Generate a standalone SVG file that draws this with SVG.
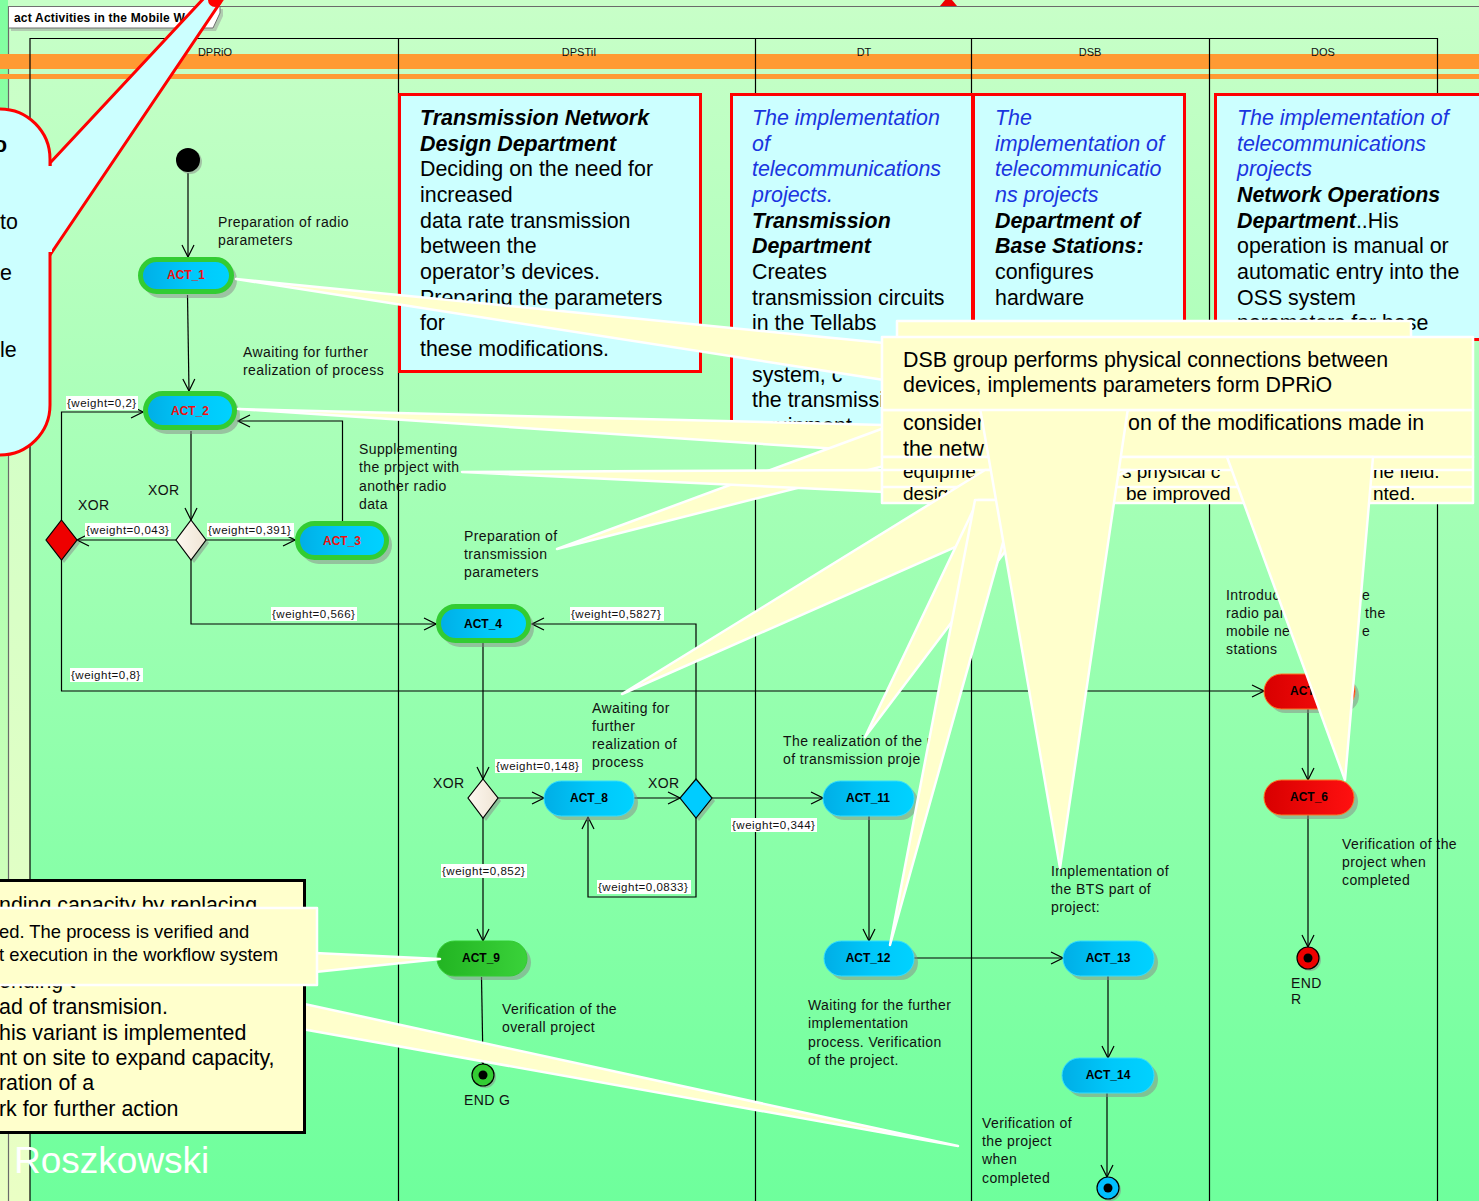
<svg xmlns="http://www.w3.org/2000/svg" width="1479" height="1201" viewBox="0 0 1479 1201">
<defs>
<linearGradient id="bg" x1="0" y1="0" x2="0" y2="1">
<stop offset="0" stop-color="#c8ffc8"/><stop offset="0.5" stop-color="#9dffb2"/><stop offset="1" stop-color="#6eff9c"/>
</linearGradient>
<linearGradient id="strip1" x1="0" y1="0" x2="0" y2="1">
<stop offset="0" stop-color="#80ffa0"/><stop offset="1" stop-color="#eaffc4"/>
</linearGradient>
<linearGradient id="strip2" x1="0" y1="0" x2="0" y2="1">
<stop offset="0" stop-color="#c8ffc8"/><stop offset="1" stop-color="#eaffc4"/>
</linearGradient>
<linearGradient id="blue" x1="0" y1="0" x2="1" y2="0">
<stop offset="0" stop-color="#00aee6"/><stop offset="0.55" stop-color="#00c8fa"/><stop offset="1" stop-color="#00d2ff"/>
</linearGradient>
<linearGradient id="grn" x1="0" y1="0" x2="1" y2="0">
<stop offset="0" stop-color="#22b422"/><stop offset="1" stop-color="#3ad23a"/>
</linearGradient>
<linearGradient id="red" x1="0" y1="0" x2="1" y2="0">
<stop offset="0" stop-color="#d80000"/><stop offset="1" stop-color="#ff1010"/>
</linearGradient>
<linearGradient id="beige" x1="0" y1="0" x2="1" y2="0">
<stop offset="0" stop-color="#fdf8f0"/><stop offset="1" stop-color="#efe4d4"/>
</linearGradient>
<marker id="arr" viewBox="0 0 14 14" refX="13" refY="7" markerWidth="14" markerHeight="14" orient="auto" markerUnits="userSpaceOnUse">
<path d="M1,1 L13,7 L1,13" fill="none" stroke="#000" stroke-width="1.2"/>
</marker>
<clipPath id="clipDT"><rect x="731" y="93" width="242" height="332"/></clipPath>
<clipPath id="band3"><rect x="882" y="470" width="592" height="17"/></clipPath>
<clipPath id="band4"><rect x="882" y="487" width="592" height="16"/></clipPath>
</defs>
<style>
text{font-family:"Liberation Sans",Arial,sans-serif}
.lbl{font-size:14px;letter-spacing:.4px;fill:#111}
.hd{font-size:11px;fill:#111;text-anchor:middle}
.w{font-size:11.5px;letter-spacing:.5px;fill:#111}
.wb{fill:#fff}
.c{fill:none;stroke:#000;stroke-width:1.2}
.ca{fill:none;stroke:#000;stroke-width:1.2;marker-end:url(#arr)}
.sh{fill:#888;opacity:.5}
.an{font-size:12px;font-weight:bold;text-anchor:middle;fill:#000}
.ar{fill:#ee1111}
.gb{stroke:#33cc33;stroke-width:5}
.bb{stroke:#33ddff;stroke-width:1}
.note{fill:#ccffff;stroke:#ff0000;stroke-width:3}
.nt{font-size:21.4px;fill:#000}
.bl{fill:#1a35e0;font-style:italic}
.bi{font-weight:bold;font-style:italic}
.y{fill:#ffffcc;stroke:#fff;stroke-width:2.5;stroke-linejoin:round}
.lane{stroke:#000;stroke-width:1.2}
</style>

<!-- background -->
<rect x="0" y="0" width="1479" height="1201" fill="url(#bg)"/>
<rect x="0" y="0" width="1479" height="7" fill="#c8ffc8"/>
<rect x="0" y="0" width="8" height="1201" fill="url(#strip1)"/>
<rect x="8" y="30" width="22" height="1171" fill="url(#strip2)"/>
<line x1="8" y1="6.5" x2="1479" y2="6.5" stroke="#6a6a6a" stroke-width="1.2"/>
<line x1="8.5" y1="6" x2="8.5" y2="1201" stroke="#6a6a6a" stroke-width="1.2"/>

<!-- orange bands -->
<rect x="0" y="54" width="1479" height="15" fill="#ff9a33"/>
<rect x="0" y="74" width="1479" height="5" fill="#ff9a33"/>

<!-- lanes -->
<g id="lanes">
<line class="lane" x1="30" y1="38.5" x2="1437" y2="38.5"/>
<line class="lane" x1="30" y1="38" x2="30" y2="1201"/>
<line class="lane" x1="398.5" y1="38" x2="398.5" y2="1201"/>
<line class="lane" x1="755.5" y1="38" x2="755.5" y2="1201"/>
<line class="lane" x1="971.5" y1="38" x2="971.5" y2="1201"/>
<line class="lane" x1="1209.5" y1="38" x2="1209.5" y2="1201"/>
<line class="lane" x1="1437.5" y1="38" x2="1437.5" y2="1201"/>
<text class="hd" x="215" y="56">DPRiO</text>
<text class="hd" x="579" y="56">DPSTiI</text>
<text class="hd" x="864" y="56">DT</text>
<text class="hd" x="1090" y="56">DSB</text>
<text class="hd" x="1323" y="56">DOS</text>
</g>

<!-- frame label -->
<g id="frame-label">
<polygon points="11,9 223,9 223,16 216,31 11,31" fill="#999" opacity="0.5"/>
<polygon points="8.5,6.5 220,6.5 220,13 213,28 8.5,28" fill="#fff" stroke="#707070" stroke-width="1"/>
<text x="14" y="21.5" font-size="12" font-weight="bold" letter-spacing=".2" fill="#000">act Activities in the Mobile Web</text>
</g>

<!-- top note boxes -->
<g id="note-dpstii">
<rect class="note" x="399.5" y="94.5" width="301" height="277"/>
<text class="nt" x="420"><tspan class="bi" x="420" y="125">Transmission Network</tspan><tspan class="bi" x="420" y="151">Design Department</tspan><tspan x="420" y="176">Deciding on the need for</tspan><tspan x="420" y="202">increased</tspan><tspan x="420" y="228">data rate transmission</tspan><tspan x="420" y="253">between the</tspan><tspan x="420" y="279">operator’s devices.</tspan><tspan x="420" y="305">Preparing the parameters</tspan><tspan x="420" y="330">for</tspan><tspan x="420" y="356">these modifications.</tspan></text>
</g>
<g id="note-dt">
<rect class="note" x="731.5" y="94.5" width="241" height="331"/>
<g clip-path="url(#clipDT)">
<text class="nt" x="752"><tspan class="bl" x="752" y="125">The implementation</tspan><tspan class="bl" x="752" y="151">of</tspan><tspan class="bl" x="752" y="176">telecommunications</tspan><tspan class="bl" x="752" y="202">projects.</tspan><tspan class="bi" x="752" y="228">Transmission</tspan><tspan class="bi" x="752" y="253">Department</tspan><tspan x="752" y="279">Creates</tspan><tspan x="752" y="305">transmission circuits</tspan><tspan x="752" y="330">in the Tellabs</tspan><tspan x="752" y="382">system, c</tspan><tspan x="752" y="407">the transmissi</tspan><tspan x="752" y="433">equipment</tspan></text>
</g>
<rect x="731.5" y="94.5" width="241" height="331" fill="none" stroke="#ff0000" stroke-width="3"/>
</g>
<g id="note-dsb">
<rect class="note" x="973.5" y="94.5" width="211" height="240"/>
<text class="nt" x="995"><tspan class="bl" x="995" y="125">The</tspan><tspan class="bl" x="995" y="151">implementation of</tspan><tspan class="bl" x="995" y="176">telecommunicatio</tspan><tspan class="bl" x="995" y="202">ns projects</tspan><tspan class="bi" x="995" y="228">Department of</tspan><tspan class="bi" x="995" y="253">Base Stations:</tspan><tspan x="995" y="279">configures</tspan><tspan x="995" y="305">hardware</tspan></text>
</g>
<g id="note-dos">
<rect class="note" x="1215.5" y="94.5" width="270" height="245"/>
<text class="nt" x="1237"><tspan class="bl" x="1237" y="125">The implementation of</tspan><tspan class="bl" x="1237" y="151">telecommunications</tspan><tspan class="bl" x="1237" y="176">projects</tspan><tspan class="bi" x="1237" y="202">Network Operations</tspan><tspan class="bi" x="1237" y="228">Department</tspan><tspan>..His</tspan><tspan x="1237" y="253">operation is manual or</tspan><tspan x="1237" y="279">automatic entry into the</tspan><tspan x="1237" y="305">OSS system</tspan><tspan x="1237" y="330">parameters for base</tspan></text>
</g>

<!-- connectors -->
<g id="connectors">
<path class="ca" d="M188,173 V257"/>
<path class="ca" d="M187.5,295 L189,391"/>
<path class="ca" d="M191,431 V520"/>
<path class="ca" d="M176,540 H77"/>
<path class="ca" d="M206,540 H295"/>
<path class="ca" d="M342.5,521 V421 H238"/>
<path class="ca" d="M191,560 V624 H436"/>
<path class="ca" d="M61.5,520 V412 H143"/>
<path class="ca" d="M61.5,560 V691 H1264"/>
<path class="ca" d="M483,643 V779"/>
<path class="ca" d="M498,798 H544"/>
<path class="ca" d="M634,798 H680"/>
<path class="ca" d="M696,779 V624 H532"/>
<path class="ca" d="M696,818 V897 H588 V817"/>
<path class="ca" d="M712,798 H823"/>
<path class="ca" d="M483,818 V941"/>
<path class="ca" d="M481.5,977 L483,1064"/>
<path class="ca" d="M869,816 V941"/>
<path class="ca" d="M914,958 H1063"/>
<path class="ca" d="M1108,976 V1058"/>
<path class="ca" d="M1107,1093 V1177"/>
<path class="ca" d="M1308,709 V780"/>
<path class="ca" d="M1308,815 V947"/>
<rect class="wb" x="66" y="396" width="72" height="14"/><text class="w" x="67" y="407">{weight=0,2}</text>
<rect class="wb" x="85" y="523" width="86" height="14"/><text class="w" x="86" y="534">{weight=0,043}</text>
<rect class="wb" x="207" y="523" width="87" height="14"/><text class="w" x="208" y="534">{weight=0,391}</text>
<rect class="wb" x="271" y="607" width="86" height="14"/><text class="w" x="272" y="618">{weight=0,566}</text>
<rect class="wb" x="70" y="668" width="73" height="14"/><text class="w" x="71" y="679">{weight=0,8}</text>
<rect class="wb" x="570" y="607" width="94" height="14"/><text class="w" x="571" y="618">{weight=0,5827}</text>
<rect class="wb" x="495" y="759" width="87" height="14"/><text class="w" x="496" y="770">{weight=0,148}</text>
<rect class="wb" x="597" y="880" width="94" height="14"/><text class="w" x="598" y="891">{weight=0,0833}</text>
<rect class="wb" x="731" y="818" width="86" height="14"/><text class="w" x="732" y="829">{weight=0,344}</text>
<rect class="wb" x="441" y="864" width="86" height="14"/><text class="w" x="442" y="875">{weight=0,852}</text>
</g>

<!-- nodes -->
<g id="initial"><circle cx="190" cy="162" r="12" class="sh"/><circle cx="188" cy="160" r="12" fill="#000"/></g>
<g id="ACT_1"><rect class="sh" x="143" y="262" width="94" height="36" rx="18"/><rect class="gb" x="140.5" y="259.5" width="91" height="32" rx="16" fill="url(#blue)"/><text class="an ar" x="186" y="279">ACT_1</text></g>
<g id="ACT_2"><rect class="sh" x="148" y="396" width="92" height="38" rx="19"/><rect class="gb" x="145.5" y="393.5" width="89" height="34" rx="17" fill="url(#blue)"/><text class="an ar" x="190" y="415">ACT_2</text></g>
<g id="ACT_3"><rect class="sh" x="300" y="526" width="92" height="38" rx="19"/><rect class="gb" x="297.5" y="523.5" width="89" height="34" rx="17" fill="url(#blue)"/><text class="an ar" x="342" y="545">ACT_3</text></g>
<g id="ACT_4"><rect class="sh" x="441" y="609" width="93" height="38" rx="19"/><rect class="gb" x="438.5" y="606.5" width="90" height="34" rx="17" fill="url(#blue)"/><text class="an" x="483" y="628">ACT_4</text></g>
<g id="ACT_8"><rect class="sh" x="548" y="785" width="90" height="35" rx="17.5"/><rect class="bb" x="544" y="781" width="90" height="35" rx="17.5" fill="url(#blue)"/><text class="an" x="589" y="802">ACT_8</text></g>
<g id="ACT_9"><rect class="sh" x="441" y="945" width="90" height="35" rx="17.5"/><rect x="437" y="941" width="90" height="35" rx="17.5" fill="url(#grn)" stroke="#33cc33"/><text class="an" x="481" y="962">ACT_9</text></g>
<g id="ACT_11"><rect class="sh" x="827" y="785" width="91" height="35" rx="17.5"/><rect class="bb" x="823" y="781" width="91" height="35" rx="17.5" fill="url(#blue)"/><text class="an" x="868" y="802">ACT_11</text></g>
<g id="ACT_12"><rect class="sh" x="828" y="945" width="90" height="35" rx="17.5"/><rect class="bb" x="824" y="941" width="90" height="35" rx="17.5" fill="url(#blue)"/><text class="an" x="868" y="962">ACT_12</text></g>
<g id="ACT_13"><rect class="sh" x="1067" y="945" width="91" height="35" rx="17.5"/><rect class="bb" x="1063" y="941" width="91" height="35" rx="17.5" fill="url(#blue)"/><text class="an" x="1108" y="962">ACT_13</text></g>
<g id="ACT_14"><rect class="sh" x="1066" y="1062" width="92" height="35" rx="17.5"/><rect class="bb" x="1062" y="1058" width="92" height="35" rx="17.5" fill="url(#blue)"/><text class="an" x="1108" y="1079">ACT_14</text></g>
<g id="ACT_5"><rect class="sh" x="1268" y="678" width="91" height="35" rx="17.5"/><rect x="1264" y="674" width="91" height="35" rx="17.5" fill="url(#red)" stroke="#ff7722"/><text class="an" x="1309" y="695">ACT_5</text></g>
<g id="ACT_6"><rect class="sh" x="1268" y="784" width="90" height="35" rx="17.5"/><rect x="1264" y="780" width="90" height="35" rx="17.5" fill="url(#red)" stroke="#ff7722"/><text class="an" x="1309" y="801">ACT_6</text></g>

<g id="xor1"><polygon class="sh" points="194,523 209,543 194,563 179,543"/><polygon points="191,520 206,540 191,560 176,540" fill="url(#beige)" stroke="#000" stroke-width="1.2"/></g>
<g id="xor-red"><polygon class="sh" points="64,523 80,543 64,563 49,543"/><polygon points="61.5,520 77,540 61.5,560 46,540" fill="#ee0000" stroke="#000" stroke-width="1.2"/></g>
<g id="xor2"><polygon class="sh" points="486,782 501,801 486,821 471,801"/><polygon points="483,779 498,798 483,818 468,798" fill="url(#beige)" stroke="#000" stroke-width="1.2"/></g>
<g id="xor-blue"><polygon class="sh" points="699,782 715,801 699,821 683,801"/><polygon points="696,779 712,798 696,818 680,798" fill="#00ccff" stroke="#000" stroke-width="1.2"/></g>

<g id="endG"><circle cx="485" cy="1077" r="11" class="sh"/><circle cx="483" cy="1075" r="11" fill="#33cc33" stroke="#000" stroke-width="1.2"/><circle cx="483" cy="1075" r="4.5" fill="#000"/></g>
<g id="endR"><circle cx="1310" cy="960" r="11" class="sh"/><circle cx="1308" cy="958" r="11" fill="#ee0000" stroke="#000" stroke-width="1.2"/><circle cx="1308" cy="958" r="4.5" fill="#000"/></g>
<g id="endB"><circle cx="1110" cy="1190" r="11" class="sh"/><circle cx="1108" cy="1188" r="11" fill="#00bfff" stroke="#000" stroke-width="1.2"/><circle cx="1108" cy="1188" r="4.5" fill="#000"/></g>

<!-- labels -->
<g id="labels">
<text class="lbl" x="218" y="227">Preparation of radio</text>
<text class="lbl" x="218" y="245">parameters</text>
<text class="lbl" x="243" y="357">Awaiting for further</text>
<text class="lbl" x="243" y="375">realization of process</text>
<text class="lbl" x="148" y="495">XOR</text>
<text class="lbl" x="78" y="510">XOR</text>
<text class="lbl" x="359" y="454">Supplementing</text>
<text class="lbl" x="359" y="472">the project with</text>
<text class="lbl" x="359" y="491">another radio</text>
<text class="lbl" x="359" y="509">data</text>
<text class="lbl" x="464" y="541">Preparation of</text>
<text class="lbl" x="464" y="559">transmission</text>
<text class="lbl" x="464" y="577">parameters</text>
<text class="lbl" x="592" y="713">Awaiting for</text>
<text class="lbl" x="592" y="731">further</text>
<text class="lbl" x="592" y="749">realization of</text>
<text class="lbl" x="592" y="767">process</text>
<text class="lbl" x="433" y="788">XOR</text>
<text class="lbl" x="648" y="788">XOR</text>
<text class="lbl" x="783" y="746">The realization of the p</text>
<text class="lbl" x="783" y="764">of transmission proje</text>
<text class="lbl" x="502" y="1014">Verification of the</text>
<text class="lbl" x="502" y="1032">overall project</text>
<text class="lbl" x="464" y="1105" font-size="12">END G</text>
<text class="lbl" x="808" y="1010">Waiting for the further</text>
<text class="lbl" x="808" y="1028">implementation</text>
<text class="lbl" x="808" y="1047">process. Verification</text>
<text class="lbl" x="808" y="1065">of the project.</text>
<text class="lbl" x="1051" y="876">Implementation of</text>
<text class="lbl" x="1051" y="894">the BTS part of</text>
<text class="lbl" x="1051" y="912">project:</text>
<text class="lbl" x="982" y="1128">Verification of</text>
<text class="lbl" x="982" y="1146">the project</text>
<text class="lbl" x="982" y="1164">when</text>
<text class="lbl" x="982" y="1183">completed</text>
<text class="lbl" x="1226" y="600">Introduc</text><text class="lbl" x="1362" y="600">e</text>
<text class="lbl" x="1226" y="618">radio par</text><text class="lbl" x="1365" y="618">the</text>
<text class="lbl" x="1226" y="636">mobile ne</text><text class="lbl" x="1362" y="636">e</text>
<text class="lbl" x="1226" y="654">stations</text>
<text class="lbl" x="1342" y="849">Verification of the</text>
<text class="lbl" x="1342" y="867">project when</text>
<text class="lbl" x="1342" y="885">completed</text>
<text class="lbl" x="1291" y="988" font-size="12">END</text>
<text class="lbl" x="1291" y="1004" font-size="12">R</text>
</g>

<!-- yellow callout (DSB group etc.) -->
<g id="callout-dsb">
<rect class="y" x="897" y="321" width="514" height="20"/>
<polygon class="y" points="236,279 884,343 884,380"/>
<polygon class="y" points="238,409 884,425 884,452"/>
<polygon class="y" points="557,549 884,428 884,466"/>
<polygon class="y" points="462,472 884,470 884,492"/>
<rect class="y" x="882" y="410" width="591" height="47"/>
<text class="nt" x="903" y="430">consider</text>
<text class="nt" x="1128" y="430">on of the modifications made in</text>
<text class="nt" x="903" y="456">the netw</text>
<rect class="y" x="882" y="457" width="591" height="46"/>
<line x1="882" y1="470" x2="1473" y2="470" stroke="#fff" stroke-width="2.5"/>
<line x1="882" y1="487" x2="1473" y2="487" stroke="#fff" stroke-width="2.5"/>
<g clip-path="url(#band3)" font-size="19">
<text x="903" y="478">equipme</text>
<text x="1122" y="478">s physical c</text>
<text x="1373" y="478">he field.</text>
</g>
<g clip-path="url(#band4)" font-size="19">
<text x="903" y="500">design</text>
<text x="1126" y="500">be improved</text>
<text x="1373" y="500">nted.</text>
</g>
<polygon class="y" points="985,470 1130,470 622,694"/>
<polygon class="y" points="978,500 1044,500 865,737"/>
<polygon class="y" points="975,500 1015,500 890,945"/>
<polygon class="y" points="980,408 1128,408 1060,868"/>
<polygon class="y" points="1227,457 1373,457 1345,780"/>
<rect class="y" x="882" y="337" width="591" height="73"/>
<text class="nt" x="903" y="367">DSB group performs physical connections between</text>
<text class="nt" x="903" y="392">devices, implements parameters form DPRiO</text>
</g>

<!-- left cloud callout -->
<g id="callout-left">
<polygon points="50,163 205,-3 224,-3 50,255" fill="#ccffff" stroke="#ff0000" stroke-width="3" stroke-linejoin="round"/>
<rect x="-60" y="109" width="110" height="346" rx="50" fill="#ccffff" stroke="#ff0000" stroke-width="3"/>
<rect x="44" y="166" width="8" height="86" fill="#ccffff"/>
<circle cx="215" cy="0" r="7" fill="#ff0000"/>
<text class="nt" x="-6" y="152" font-weight="bold">o</text>
<text class="nt" x="0" y="229">to</text>
<text class="nt" x="0" y="280">e</text>
<text class="nt" x="0" y="357">le</text>
</g>
<polygon points="940,6 957,6 952,0 945,0" fill="#ee0000"/>

<!-- bottom-left notes -->
<g id="callout-bottom">
<polygon class="y" points="55,985 217,985 958,1146"/>
<rect x="-5" y="880.5" width="309.5" height="252" fill="#ffffcc" stroke="#000" stroke-width="3"/>
<text class="nt" x="-1" y="912">nding capacity by replacing</text>
<text class="nt" x="-1" y="988">ending t</text>
<text class="nt" x="-1" y="1014">ad of transmision.</text>
<text class="nt" x="-1" y="1040">his variant is implemented</text>
<text class="nt" x="-1" y="1065">nt on site to expand capacity,</text>
<text class="nt" x="-1" y="1090">ration of a</text>
<text class="nt" x="-1" y="1116">rk for further action</text>
<polygon class="y" points="315,953 315,972 440,959"/>
<rect class="y" x="-5" y="908" width="322" height="77"/>
<text x="-1" y="938" font-size="18.4">ed. The process is verified and</text>
<text x="-1" y="961" font-size="18.4">t execution in the workflow system</text>
</g>

<text x="14" y="1173" font-size="37" fill="#ffffff">Roszkowski</text>
</svg>
